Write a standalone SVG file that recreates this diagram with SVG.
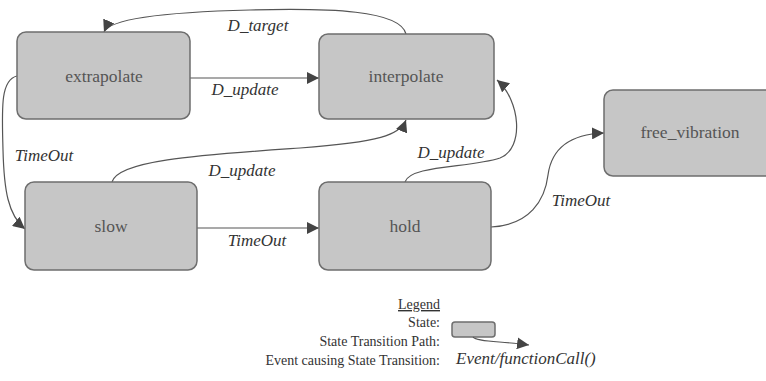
<svg xmlns="http://www.w3.org/2000/svg" width="766" height="381" viewBox="0 0 766 381">
<defs>
<style>
.box{fill:#c6c6c6;stroke:#6e6e6e;stroke-width:1.5}
.name{font-family:"Liberation Serif","Times New Roman","DejaVu Serif",serif;font-size:17.5px;fill:#555;text-anchor:middle}
.edge{fill:none;stroke:#555;stroke-width:1.2}
.lbl{font-family:"Liberation Serif","Times New Roman","DejaVu Serif",serif;font-size:17px;font-style:italic;fill:#333;text-anchor:middle}
.leg{font-family:"Liberation Serif","Times New Roman","DejaVu Serif",serif;font-size:14px;fill:#333;text-anchor:end}
</style>
<marker id="arr" viewBox="0 0 10 10" refX="10" refY="5" markerWidth="12" markerHeight="12" markerUnits="userSpaceOnUse" orient="auto">
<path d="M0,0 L10,5 L0,10 z" fill="#444"/>
</marker>
</defs>
<rect width="766" height="381" fill="#fff"/>
<g id="connectors">
<path class="edge" marker-end="url(#arr)" d="M190,78 L319,78"/>
<path class="edge" marker-end="url(#arr)" d="M406,34 C400,10 330,8 250,10 C170,12 110,18 104,32"/>
<path class="edge" marker-end="url(#arr)" d="M17,76 C0,80 2,110 3,150 C4,190 8,215 25,229"/>
<path class="edge" marker-end="url(#arr)" d="M112,182 C118,160 200,155 300,148 C380,142 400,135 406,120"/>
<path class="edge" marker-end="url(#arr)" d="M197,228 L319,228"/>
<path class="edge" marker-end="url(#arr)" d="M405,182 C410,165 470,168 500,158 C525,148 520,100 497,80"/>
<path class="edge" marker-end="url(#arr)" d="M491,227 C530,225 545,200 548,175 C552,145 575,134 604,133"/>
</g>
<g id="extrapolate"><rect class="box" x="17" y="32" width="173" height="87" rx="9"/><text class="name" x="104" y="82">extrapolate</text></g>
<g id="interpolate"><rect class="box" x="319" y="34" width="175" height="85" rx="9"/><text class="name" x="406" y="82">interpolate</text></g>
<g id="slow"><rect class="box" x="25" y="182" width="172" height="88" rx="9"/><text class="name" x="111" y="232">slow</text></g>
<g id="hold"><rect class="box" x="319" y="182" width="172" height="88" rx="9"/><text class="name" x="405" y="232">hold</text></g>
<g id="free_vibration"><rect class="box" x="604" y="90" width="170" height="86" rx="9"/><text class="name" x="690" y="138">free_vibration</text></g>
<g id="labels">
<text class="lbl" x="258" y="31">D_target</text>
<text class="lbl" x="245" y="95">D_update</text>
<text class="lbl" x="44" y="161">TimeOut</text>
<text class="lbl" x="242" y="176">D_update</text>
<text class="lbl" x="257" y="246">TimeOut</text>
<text class="lbl" x="451" y="158">D_update</text>
<text class="lbl" x="581" y="206">TimeOut</text>
</g>
<g id="legend">
<text class="leg" x="440" y="309" text-decoration="underline">Legend</text>
<text class="leg" x="440" y="327">State:</text>
<text class="leg" x="440" y="346">State Transition Path:</text>
<text class="leg" x="440" y="365">Event causing State Transition:</text>
<rect class="box" x="452" y="322" width="43" height="15" rx="3" stroke-width="1.2"/>
<path class="edge" marker-end="url(#arr)" d="M473,337 C476,342 500,341 529,345"/>
<text class="lbl" x="456" y="364" font-size="16" style="text-anchor:start">Event/functionCall()</text>
</g>
</svg>
